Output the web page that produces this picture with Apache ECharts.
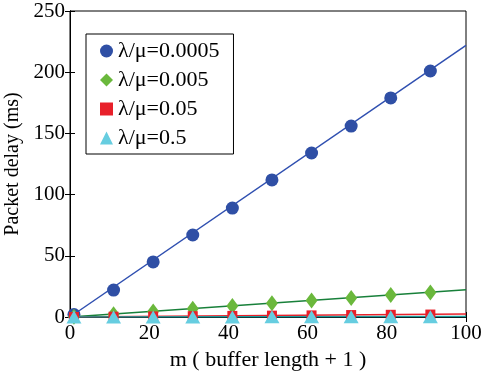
<!DOCTYPE html>
<html>
<head>
<meta charset="utf-8">
<script src="https://cdn.jsdelivr.net/npm/echarts@6/dist/echarts.min.js"></script>
<style>
  html, body { margin: 0; padding: 0; background: #fff; }
  #main { width: 482px; height: 374px; }
</style>
</head>
<body>
<div id="main"></div>
<script>
// buffer length + 1
const mValues = [1, 11, 21, 31, 41, 51, 61, 71, 81, 91];
// measured packet delay (ms)
const delayA = [2, 22, 45, 67, 89, 112, 134, 156, 179, 201];
const delayB = [0.2, 2.2, 4.5, 6.7, 8.9, 11.2, 13.4, 15.6, 17.9, 20.1];
const delayC = [0.02, 0.22, 0.45, 0.67, 0.89, 1.1, 1.3, 1.6, 1.8, 2.0];
const delayD = [0.0, 0.02, 0.05, 0.07, 0.09, 0.11, 0.13, 0.16, 0.18, 0.2];
// fitted lines (start, end)
const fitX = [0, 100];
const fitA = [0, 222];
const fitB = [0, 22.2];
const fitC = [0, 2.4];
const fitD = [0, 0.5];
const names = ['λ/μ=0.0005', 'λ/μ=0.005', 'λ/μ=0.05', 'λ/μ=0.5'];

const font = '"Liberation Serif", "Times New Roman", serif';

function pairs(xs, ys) {
    return xs.map((x, i) => [x, ys[i]]);
}

const chart = echarts.init(document.getElementById('main'));

const fitLine = (vals, color) => ({
    type: 'line',
    data: pairs(fitX, vals),
    symbol: 'none',
    silent: true,
    lineStyle: { color: color, width: 1.5 },
    z: 2
});

const marks = (name, vals, symbol, size, color) => ({
    name: name,
    type: 'scatter',
    data: pairs(mValues, vals),
    symbol: symbol,
    symbolSize: size,
    itemStyle: { color: color, opacity: 1 },
    z: 3
});

const option = {
    animation: false,
    backgroundColor: '#fff',
    textStyle: { fontFamily: font },
    grid: {
        left: 70, right: 16, top: 11, bottom: 57,
        containLabel: false, outerBoundsMode: 'none',
        show: true, borderColor: '#000', borderWidth: 1
    },
    legend: {
        orient: 'vertical',
        left: 86,
        top: 34,
        data: names,
        itemWidth: 13,
        itemHeight: 13,
        itemGap: 7,
        padding: [6, 14, 5, 14],
        borderColor: '#000',
        borderWidth: 1,
        backgroundColor: '#fff',
        textStyle: { fontFamily: font, fontSize: 22, color: '#000' }
    },
    xAxis: [{
        type: 'value', min: 0, max: 100, interval: 20,
        position: 'bottom',
        name: 'm ( buffer length + 1 )',
        nameLocation: 'middle', nameGap: 30,
        nameTextStyle: { fontFamily: font, fontSize: 22, color: '#000' },
        axisLine: { show: true, lineStyle: { color: '#000' } },
        axisTick: { show: true, inside: true, length: 5, lineStyle: { color: '#000' } },
        axisLabel: { fontFamily: font, fontSize: 21, color: '#000', margin: 6 },
        splitLine: { show: false }
    }, {
        type: 'value', min: 0, max: 100, interval: 20,
        position: 'top',
        axisLine: { show: true, lineStyle: { color: '#000' } },
        axisTick: { show: true, inside: true, length: 5, lineStyle: { color: '#000' } },
        axisLabel: { show: false },
        splitLine: { show: false }
    }],
    yAxis: [{
        type: 'value', min: 0, max: 250, interval: 50,
        position: 'left',
        name: 'Packet delay (ms)',
        nameLocation: 'middle', nameGap: 44,
        nameTextStyle: { fontFamily: font, fontSize: 20, color: '#000' },
        axisLine: { show: true, lineStyle: { color: '#000' } },
        axisTick: { show: true, inside: true, length: 5, lineStyle: { color: '#000' } },
        axisLabel: { fontFamily: font, fontSize: 21, color: '#000', margin: 5 },
        splitLine: { show: false }
    }, {
        type: 'value', min: 0, max: 250, interval: 50,
        position: 'right',
        axisLine: { show: true, lineStyle: { color: '#000' } },
        axisTick: { show: true, inside: true, length: 5, lineStyle: { color: '#000' } },
        axisLabel: { show: false },
        splitLine: { show: false }
    }],
    series: [
        fitLine(fitA, '#2f4fb0'),
        fitLine(fitB, '#18803a'),
        fitLine(fitC, '#e8202a'),
        fitLine(fitD, '#1a9a9a'),
        marks(names[0], delayA, 'circle', 13, '#2f4fa5'),
        marks(names[1], delayB, 'diamond', [12, 16], '#6ab83c'),
        marks(names[2], delayC, 'rect', 10, '#e8202a'),
        marks(names[3], delayD, 'triangle', [15, 13], '#66cde0')
    ]
};

chart.setOption(option);
</script>
</body>
</html>
